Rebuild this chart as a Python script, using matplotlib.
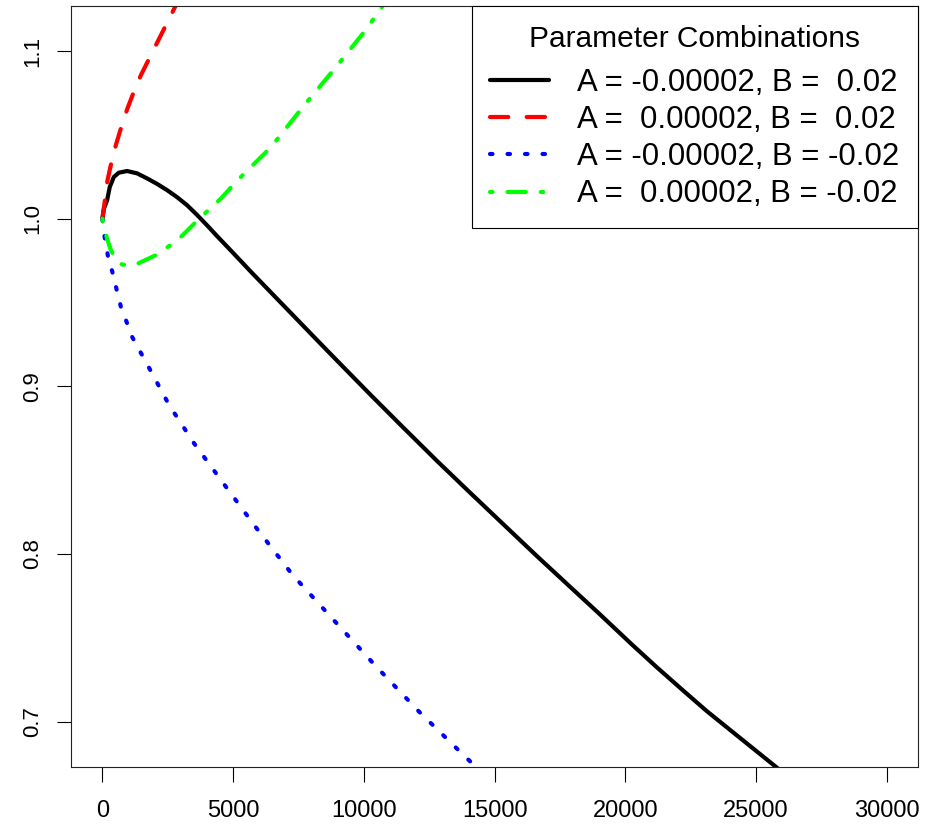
import matplotlib
matplotlib.use("Agg")
import matplotlib.pyplot as plt

plt.rcParams['font.family'] = ['Liberation Sans', 'DejaVu Sans']

# ---- data ----
black_x = [0, 60, 180, 283, 436, 627, 945, 1327, 1709, 2092, 2474, 2857, 3239, 3621,
           4004, 4421, 4845, 5736, 6501, 7500, 8543, 10264, 11500, 12811, 14000, 15235,
           16635, 18000, 18994, 20268, 21200, 22180, 23100, 24092, 25621, 26000]
black_y = [1.000, 1.006, 1.0109, 1.0189, 1.0248, 1.0274, 1.0284, 1.0270, 1.0240, 1.0207,
           1.0170, 1.0128, 1.0080, 1.0022, 0.9960, 0.9890, 0.9821, 0.9674, 0.9551,
           0.9390, 0.9222, 0.8948, 0.8755, 0.8553, 0.8375, 0.8192, 0.7985, 0.7788,
           0.7645, 0.7458, 0.7325, 0.7190, 0.7065, 0.6940, 0.6748, 0.6700]

red_x = [0, 80, 191, 321, 512, 750, 956, 1200, 1468, 1977, 2424, 2742, 2900]
red_y = [1.000, 1.009, 1.0225, 1.0318, 1.0437, 1.0560, 1.0656, 1.0755, 1.0854, 1.1013,
         1.1152, 1.1251, 1.130]

blue_x = [0, 30, 77, 218, 382, 551, 703, 1147, 1721, 2551, 3507, 4527, 5866, 7266, 8860,
          10455, 12111, 13897, 14500]
blue_y = [1.000, 0.995, 0.990, 0.9772, 0.9682, 0.9573, 0.9477, 0.9292, 0.9129, 0.8889,
          0.8660, 0.8443, 0.8160, 0.7877, 0.7604, 0.7332, 0.7060, 0.6788, 0.6700]

green_x = [0, 53, 180, 306, 500, 689, 1000, 1327, 2027, 2868, 3705, 4527, 5163, 6440,
           7713, 8987, 10008, 10646, 10800]
green_y = [1.000, 0.996, 0.988, 0.982, 0.976, 0.9730, 0.9718, 0.9730, 0.9781, 0.987,
           1.000, 1.0119, 1.0228, 1.0425, 1.0675, 1.0914, 1.1113, 1.1251, 1.129]

labels = ["A = -0.00002, B =  0.02",
          "A =  0.00002, B =  0.02",
          "A = -0.00002, B = -0.02",
          "A =  0.00002, B = -0.02"]
legend_title = "Parameter Combinations"

x_ticks = [0, 5000, 10000, 15000, 20000, 25000, 30000]
y_ticks = [0.7, 0.8, 0.9, 1.0, 1.1]

# ---- figure ----
fig = plt.figure(figsize=(9.34, 8.25), dpi=100)
fig.subplots_adjust(left=71/934, right=918.3/934, top=1-6/825, bottom=1-766.7/825)
ax = fig.add_subplot(111)

lw = 3.0
ax.plot(black_x, black_y, color='black', lw=lw, solid_capstyle='round',
        solid_joinstyle='round', label=labels[0])
ax.plot(red_x, red_y, color='#FF0000', lw=lw, dashes=(4.4, 4.4),
        dash_capstyle='round', label=labels[1])
ax.plot(blue_x, blue_y, color='#0000FF', lw=lw, dashes=(0.6, 3.6),
        dash_capstyle='round', label=labels[2])
ax.plot(green_x, green_y, color='#00FF00', lw=lw, dashes=(0.6, 3.6, 4.4, 3.6),
        dash_capstyle='round', label=labels[3])

ax.set_xlim(-1200, 31200)
ax.set_ylim(0.6732, 1.1268)

ax.set_xticks(x_ticks)
ax.set_xticklabels([str(v) for v in x_ticks])
ax.set_yticks(y_ticks)
ax.set_yticklabels(["%.1f" % v for v in y_ticks], rotation=90, va='center')

ax.tick_params(axis='x', direction='out', length=10.8, width=0.8, pad=13.5,
               labelsize=17, colors='black')
ax.tick_params(axis='y', direction='out', length=10.3, width=0.8, pad=10,
               labelsize=16, colors='black')
for sp in ax.spines.values():
    sp.set_linewidth(0.8)
    sp.set_color('#222222')

leg = ax.legend(loc='upper right', bbox_to_anchor=(1, 1), borderaxespad=0,
                title=legend_title, fontsize=22.4, title_fontsize=21.5,
                fancybox=False, framealpha=1, edgecolor='black',
                handlelength=1.9, handletextpad=0.9, borderpad=0.6,
                labelspacing=0.23)
leg.get_frame().set_linewidth(0.8)
leg._legend_box.sep = 11.0  # gap between title and entries (points)

fig.savefig("out.png", dpi=100)
